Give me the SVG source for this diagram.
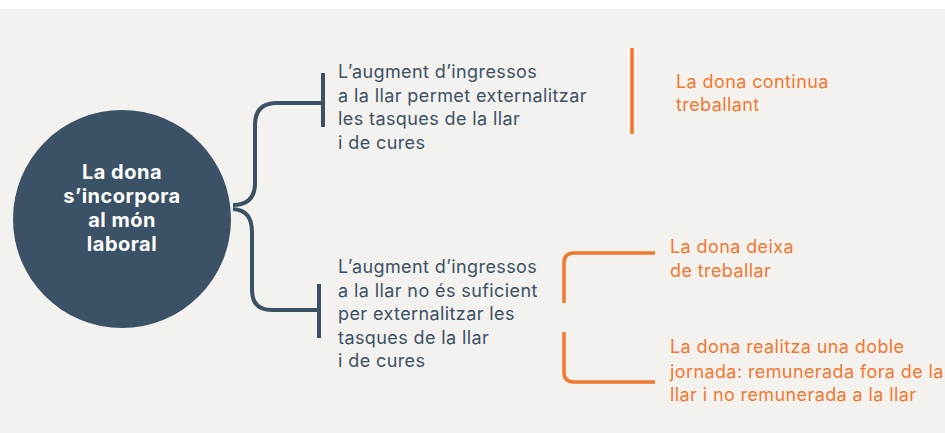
<svg xmlns="http://www.w3.org/2000/svg" width="945" height="433" viewBox="0 0 945 433">
<style>
.dark{fill:#3b5166;font-family:Inter,"Noto Sans",sans-serif;font-size:18px;letter-spacing:0.4px}
.or{fill:#f2772f;font-family:Inter,"Noto Sans",sans-serif;font-size:18px;letter-spacing:0.4px}
.ctext{fill:#ffffff;font-family:Inter,"Noto Sans",sans-serif;font-size:20px;font-weight:700;letter-spacing:0.5px;text-anchor:middle}
.cd{fill:none;stroke:#3b5166;stroke-width:4}
.co{fill:none;stroke:#f2772f;stroke-width:3.5}
</style>
<rect x="0" y="0" width="945" height="433" fill="#ffffff"/>
<rect x="0" y="9" width="945" height="424" fill="#f3f2ee"/>
<g id="connectors">
<path class="cd" d="M233,205 Q255,205 255,183 L255,125 Q255,103 277,103 L323,103"/>
<path class="cd" d="M323,73 L323,127"/>
<path class="cd" d="M233,209 Q252,210 252,232 L252,290 Q252,310 272,310 L319,310"/>
<path class="cd" d="M319,284 L319,338"/>
<path class="co" d="M632,48 L632,134"/>
<path class="co" d="M564,303 L564,263 Q564,253 574,253 L655,253"/>
<path class="co" d="M564,332 L564,372 Q564,382 574,382 L655,382"/>
</g>
<g id="root">
<circle cx="122" cy="219" r="109" fill="#3b5166"/>
<text class="ctext"><tspan x="122" y="179">La dona</tspan><tspan x="122" y="203">s’incorpora</tspan><tspan x="122" y="227">al món</tspan><tspan x="122" y="251">laboral</tspan></text>
</g>
<g id="top-branch">
<text class="dark"><tspan x="338" y="78">L’augment d’ingressos</tspan><tspan x="338" y="102">a la llar permet externalitzar</tspan><tspan x="338" y="125">les tasques de la llar</tspan><tspan x="338" y="149">i de cures</tspan></text>
</g>
<g id="bottom-branch">
<text class="dark"><tspan x="338" y="273">L’augment d’ingressos</tspan><tspan x="338" y="297">a la llar no és suficient</tspan><tspan x="338" y="320">per externalitzar les</tspan><tspan x="338" y="344">tasques de la llar</tspan><tspan x="338" y="367">i de cures</tspan></text>
</g>
<g id="continua">
<text class="or"><tspan x="676" y="88">La dona continua</tspan><tspan x="676" y="111">treballant</tspan></text>
</g>
<g id="deixa">
<text class="or"><tspan x="670" y="253">La dona deixa</tspan><tspan x="670" y="277">de treballar</tspan></text>
</g>
<g id="doble">
<text class="or"><tspan x="670" y="353">La dona realitza una doble</tspan><tspan x="670" y="378">jornada: remunerada fora de la</tspan><tspan x="670" y="401">llar i no remunerada a la llar</tspan></text>
</g>
</svg>
